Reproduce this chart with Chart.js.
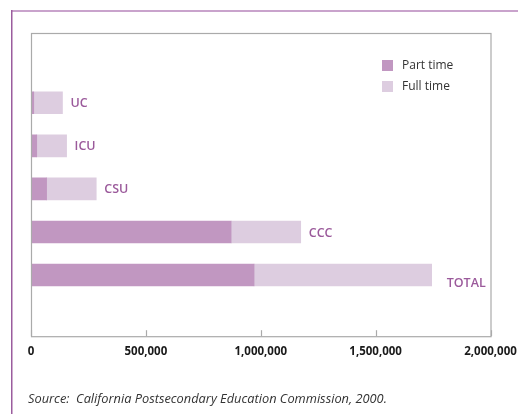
<!DOCTYPE html>
<html>
<head>
<meta charset="utf-8">
<script src="https://cdn.jsdelivr.net/npm/chart.js@4/dist/chart.umd.min.js"></script>
<style>
  html, body { margin: 0; padding: 0; background: #fff; }
  #wrap { position: relative; width: 518px; height: 414px; }
</style>
</head>
<body>
<div id="wrap"><canvas id="c" width="518" height="414"></canvas></div>
<script>
const categories = ['UC', 'ICU', 'CSU', 'CCC', 'TOTAL'];
const partTime = [12000, 25000, 68000, 871000, 971000];
const fullTime = [125000, 130000, 216000, 303000, 773000];
const xTicks = [0, 500000, 1000000, 1500000, 2000000];
const seriesNames = ['Part time', 'Full time'];
const sourceText = 'Source:  California Postsecondary Education Commission, 2000.';

const PART_COLOR = '#c197c1';
const FULL_COLOR = '#ddcde0';
const LABEL_COLOR = '#9b5a9b';

const decor = {
  id: 'decor',
  beforeDraw(chart) {
    const ctx = chart.ctx;
    ctx.save();
    ctx.fillStyle = '#c9a3cc';
    ctx.fillRect(11, 10, 507, 2);
    ctx.fillStyle = '#9b5d9e';
    ctx.fillRect(11, 10, 1.5, 404);
    ctx.restore();
  },
  afterDraw(chart) {
    const ctx = chart.ctx;
    const a = chart.chartArea;
    const xs = chart.scales.x;
    ctx.save();
    ctx.strokeStyle = '#aaaaaa';
    ctx.lineWidth = 1.2;
    ctx.strokeRect(a.left + 0.5, a.top + 0.5, a.right - a.left, a.bottom - a.top);
    xTicks.forEach(v => {
      const px = Math.round(xs.getPixelForValue(v)) + 0.5;
      ctx.beginPath();
      ctx.moveTo(px, a.bottom);
      ctx.lineTo(px, a.bottom - 6);
      ctx.stroke();
    });
    const ys = chart.scales.y;
    ctx.font = '600 12.5px "Open Sans", sans-serif';
    ctx.fillStyle = LABEL_COLOR;
    ctx.textBaseline = 'middle';
    ctx.textAlign = 'left';
    categories.forEach((c, i) => {
      const total = partTime[i] + fullTime[i];
      const isTotal = i === categories.length - 1;
      const px = xs.getPixelForValue(total) + (isTotal ? 15 : 8);
      const py = ys.getPixelForValue(i) + (isTotal ? 8 : 1);
      ctx.fillText(c, px, py);
    });
    ctx.font = '12px "Open Sans", sans-serif';
    chart.data.datasets.forEach((ds, i) => {
      const ly = 60 + i * 21;
      ctx.fillStyle = ds.backgroundColor;
      ctx.fillRect(382, ly, 11, 11);
      ctx.fillStyle = '#333333';
      ctx.fillText(ds.label, 402, ly + 5.5);
    });
    ctx.font = 'italic 12.8px "Open Sans", sans-serif';
    ctx.fillStyle = '#333333';
    ctx.fillText(sourceText, 28, 399);
    ctx.restore();
  }
};

new Chart(document.getElementById('c'), {
  type: 'bar',
  data: {
    datasets: [
      { label: seriesNames[0], data: partTime.map((v, i) => ({ x: v, y: i })), backgroundColor: PART_COLOR, barThickness: 22, borderWidth: 0 },
      { label: seriesNames[1], data: fullTime.map((v, i) => ({ x: v, y: i })), backgroundColor: FULL_COLOR, barThickness: 22, borderWidth: 0 }
    ]
  },
  options: {
    indexAxis: 'y',
    responsive: false,
    animation: false,
    layout: { padding: { left: 31, right: 27.5, top: 33, bottom: 46 } },
    plugins: { legend: { display: false }, tooltip: { enabled: false } },
    scales: {
      x: {
        type: 'linear',
        stacked: true,
        min: 0,
        max: 2000000,
        offset: false,
        afterBuildTicks: s => { s.ticks = xTicks.map(v => ({ value: v })); },
        afterFit: s => { s.paddingLeft = 0; s.paddingRight = 0; },
        grid: { display: false, drawTicks: false },
        border: { display: false },
        ticks: {
          padding: 9,
          color: '#1a1a1a',
          font: { family: '"Open Sans", sans-serif', size: 11.5, weight: '700' },
          callback: v => v.toLocaleString('en-US'),
          maxRotation: 0
        }
      },
      y: {
        type: 'linear',
        stacked: true,
        reverse: true,
        offset: false,
        bounds: 'data',
        min: -1.62,
        max: 5.42,
        display: false,
        grid: { offset: false }
      }
    }
  },
  plugins: [decor]
});
</script>
</body>
</html>
